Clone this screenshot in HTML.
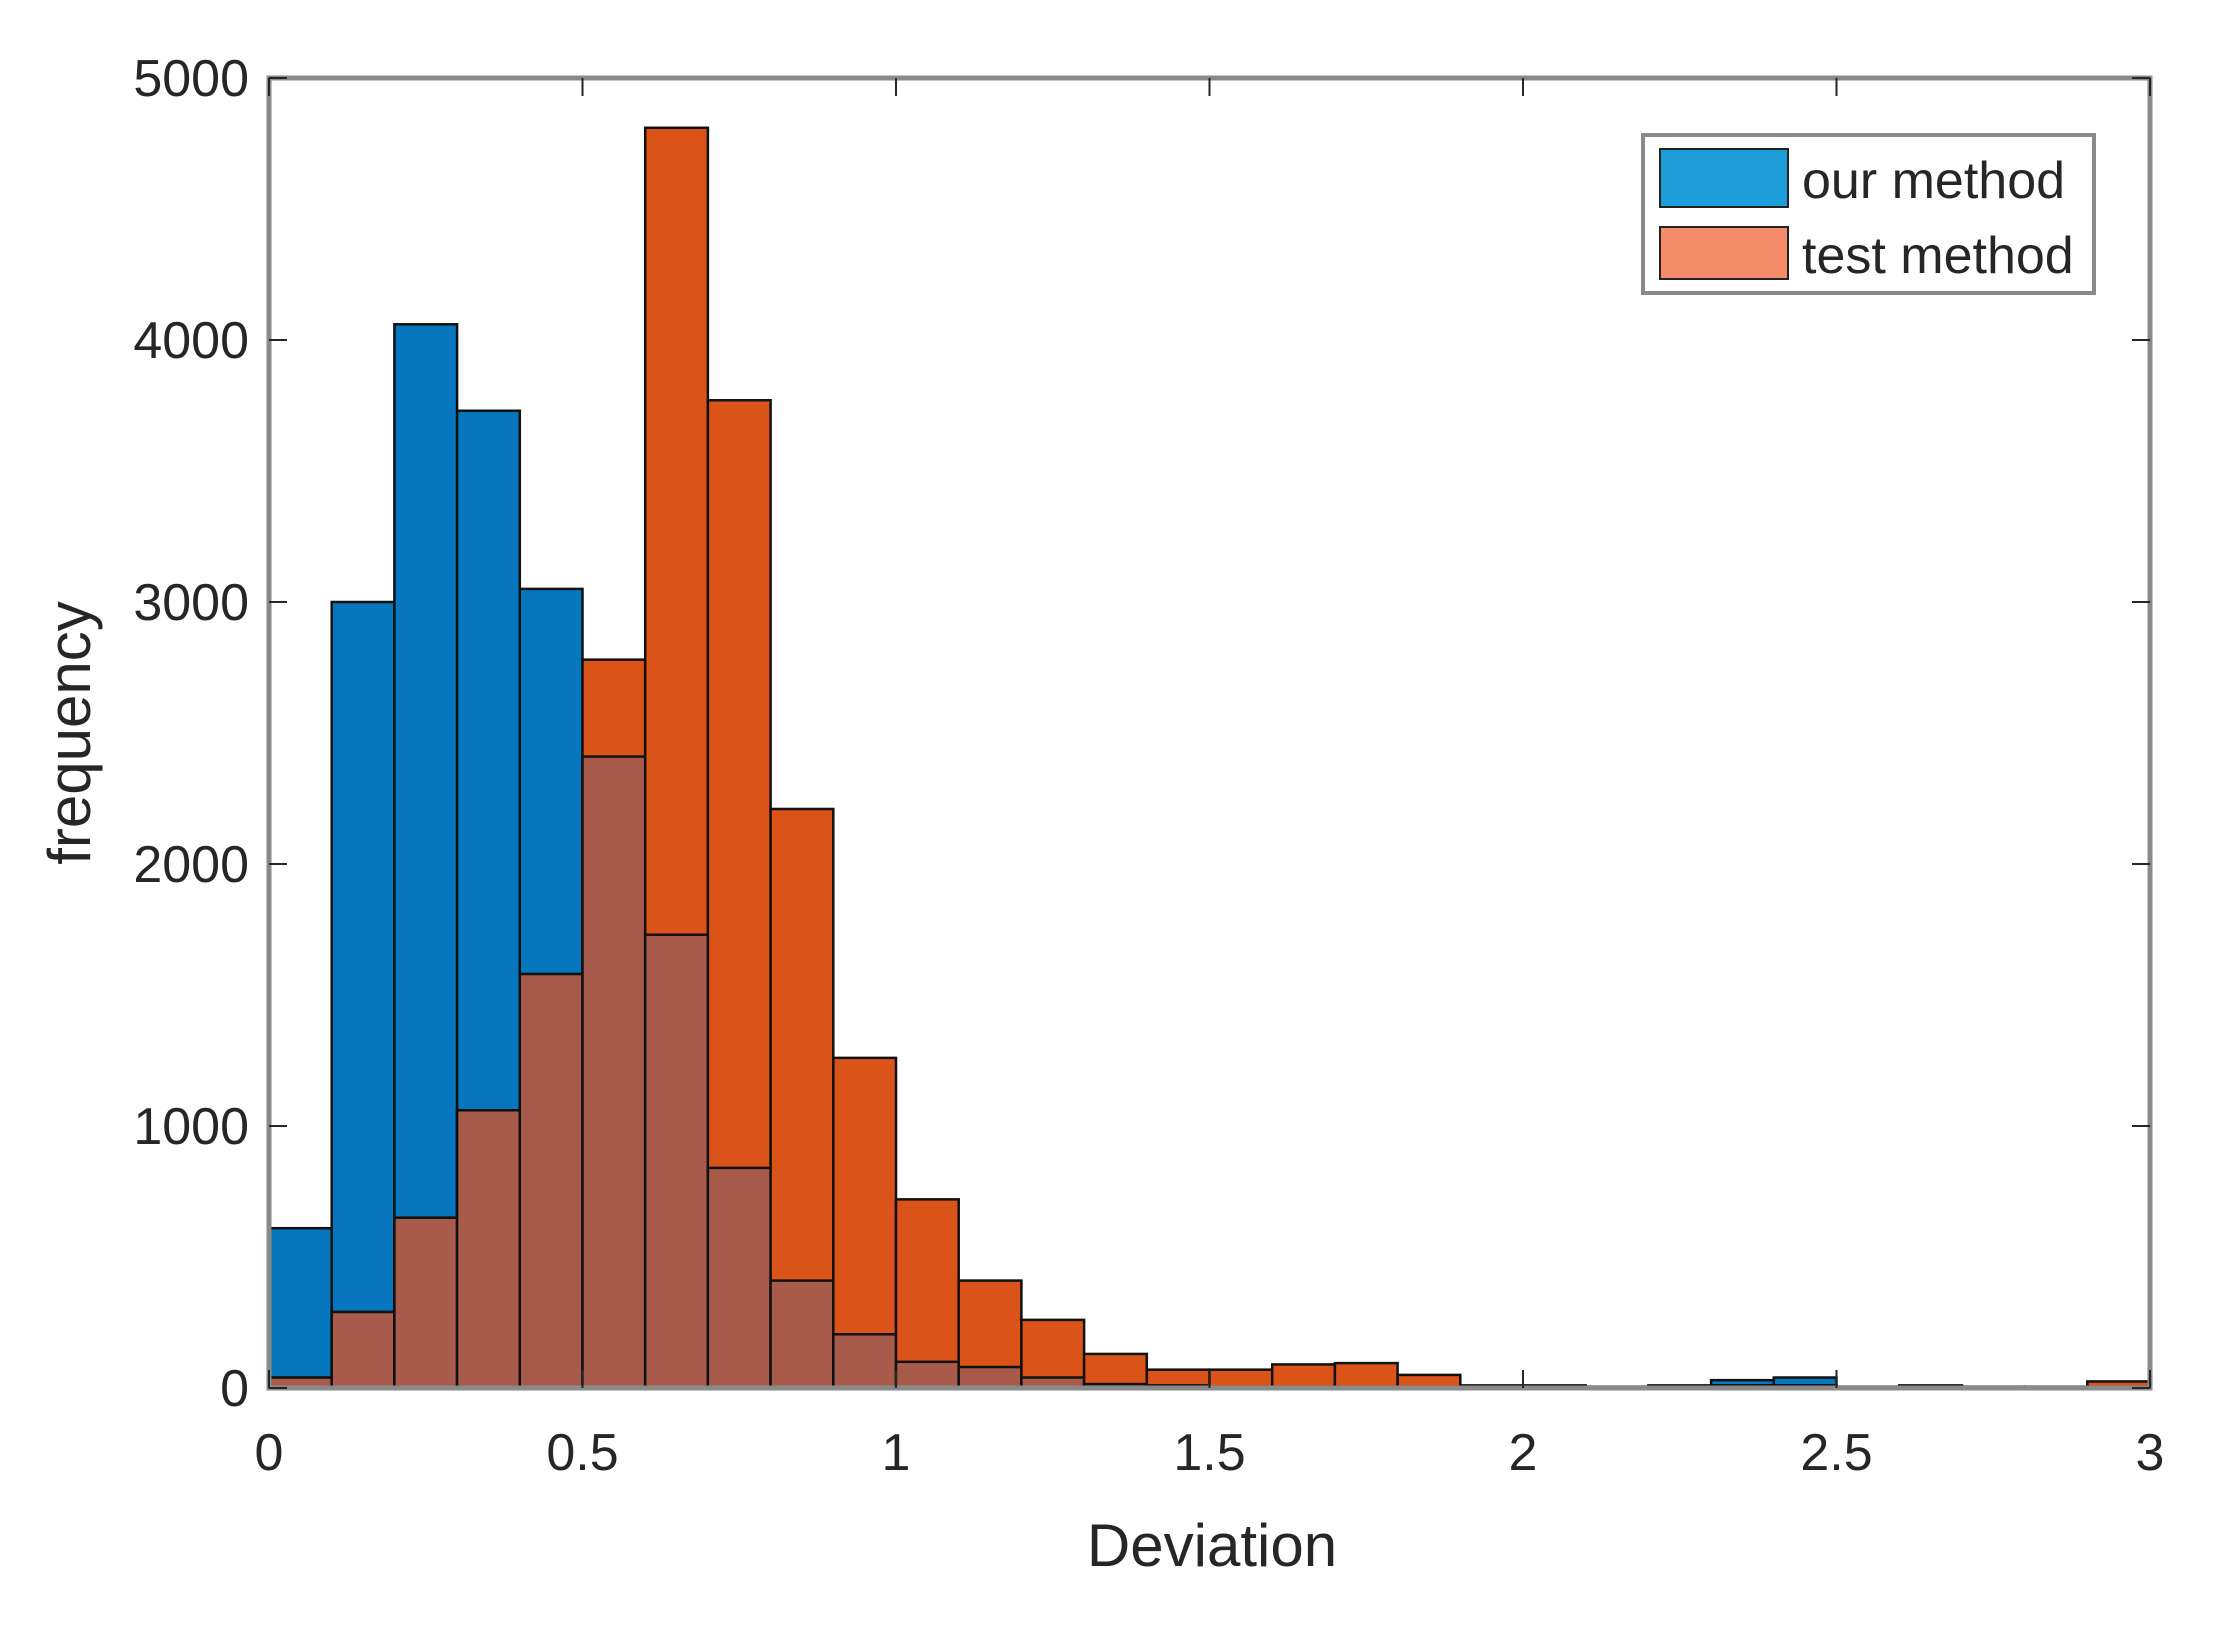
<!DOCTYPE html>
<html><head><meta charset="utf-8"><style>
body{margin:0;background:#fff}
svg text{font-family:"Liberation Sans Narrow","Liberation Sans",sans-serif;fill:#262626}
</style></head><body>
<svg id="chart" width="2221" height="1625" xmlns="http://www.w3.org/2000/svg"></svg>
<script>
const binEdges = [0,0.1,0.2,0.3,0.4,0.5,0.6,0.7,0.8,0.9,1.0,1.1,1.2,1.3,1.4,1.5,1.6,1.7,1.8,1.9,2.0,2.1,2.2,2.3,2.4,2.5,2.6,2.7,2.8,2.9,3.0];
const ourMethod = [610,3000,4060,3730,3050,2410,1730,840,410,205,100,80,40,15,10,5,5,5,5,5,5,5,5,30,40,5,5,5,5,5];
const testMethod = [40,290,650,1060,1580,2780,4810,3770,2210,1260,720,410,260,130,70,70,90,95,50,10,10,5,10,10,10,5,10,5,5,25];
const xTicks = [0,0.5,1,1.5,2,2.5,3];
const xTickLabels = ["0","0.5","1","1.5","2","2.5","3"];
const yTicks = [0,1000,2000,3000,4000,5000];
const yTickLabels = ["0","1000","2000","3000","4000","5000"];

const L=269,R=2150,T=78,B=1388;
const xs=v=>L+(v-0)/(3-0)*(R-L);
const ys=v=>B-(v/5000)*(B-T);
const svg=document.getElementById('chart');
const NS='http://www.w3.org/2000/svg';
function mk(tag,attrs,parent){const e=document.createElementNS(NS,tag);for(const k in attrs)e.setAttribute(k,attrs[k]);(parent||svg).appendChild(e);return e;}

const gB=mk('g',{});


const gO=mk('g',{});


for(let i=0;i<ourMethod.length;i++){
  const x0=xs(binEdges[i]),x1=xs(binEdges[i+1]);
  const b=ourMethod[i],o=testMethod[i];
  const rb=mk('rect',{x:x0,y:ys(b),width:x1-x0,height:B-ys(b),fill:'#0676BE',stroke:'#111','stroke-width':2.5},gB);
  
  
  const ro=mk('rect',{x:x0,y:ys(o),width:x1-x0,height:B-ys(o),fill:'#DA5319',stroke:'#111','stroke-width':2.5},gO);
  
  
  const m=Math.min(b,o);
  const rm=mk('rect',{x:x0,y:ys(m),width:x1-x0,height:B-ys(m),fill:'#A95B4B',stroke:'#111','stroke-width':2.5},gO);
  
  
}
const box=mk('rect',{x:L,y:T,width:R-L,height:B-T,fill:'none',stroke:'#8a8a8a','stroke-width':5});


xTicks.forEach((v,i)=>{
  const x=xs(v);
  mk('line',{x1:x,y1:B,x2:x,y2:B-18,stroke:'#262626','stroke-width':2});
  mk('line',{x1:x,y1:T,x2:x,y2:T+18,stroke:'#262626','stroke-width':2});
  const t=mk('text',{x:x,y:B+82,'text-anchor':'middle','font-size':52});
  t.textContent=xTickLabels[i];
  
  
});
yTicks.forEach((v,i)=>{
  const y=ys(v);
  mk('line',{x1:L,y1:y,x2:L+18,y2:y,stroke:'#262626','stroke-width':2});
  mk('line',{x1:R,y1:y,x2:R-18,y2:y,stroke:'#262626','stroke-width':2});
  const t=mk('text',{x:L-20,y:y+18,'text-anchor':'end','font-size':52});
  t.textContent=yTickLabels[i];
  
  
});
const xl=mk('text',{x:1212,y:1566,'text-anchor':'middle','font-size':60});
xl.textContent='Deviation';


const yl=mk('text',{x:0,y:0,'text-anchor':'middle','font-size':60,transform:'translate(90,733) rotate(-90)'});
yl.textContent='frequency';


const lg=mk('g',{});


mk('rect',{x:1643,y:135,width:451,height:158,fill:'#fff',stroke:'#8a8a8a','stroke-width':4},lg);
const s1=mk('rect',{x:1660,y:149,width:128,height:58,fill:'#1E9ED9',stroke:'#222','stroke-width':2},lg);


const s2=mk('rect',{x:1660,y:227,width:128,height:52,fill:'#F48C6A',stroke:'#222','stroke-width':2},lg);


const l1=mk('text',{x:1802,y:198,'font-size':52},lg);
l1.textContent='our method';


const l2=mk('text',{x:1802,y:273,'font-size':52},lg);
l2.textContent='test method';


</script>
</body></html>
